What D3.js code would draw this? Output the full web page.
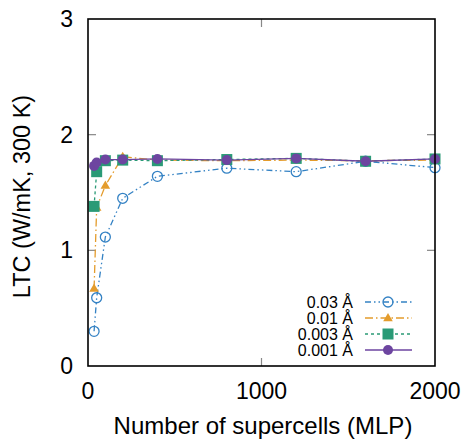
<!DOCTYPE html>
<html>
<head>
<meta charset="utf-8">
<script src="https://cdn.jsdelivr.net/npm/d3@7"></script>
<style>
body { margin: 0; background: #fff; }
text { font-family: "Liberation Sans", Arial, Helvetica, sans-serif; fill: #000; }
</style>
</head>
<body>
<div id="chart"></div>
<script>
// supercell counts and LTC values
var cells = [35, 50, 100, 200, 400, 800, 1200, 1600, 2000];
var ltc003 = [0.30, 0.59, 1.115, 1.45, 1.64, 1.71, 1.68, 1.77, 1.715];
var ltc001 = [0.67, 1.37, 1.56, 1.81, 1.78, 1.775, 1.78, 1.775, 1.78];
var ltc0003 = [1.38, 1.68, 1.775, 1.78, 1.775, 1.785, 1.795, 1.77, 1.79];
var ltc0001 = [1.73, 1.76, 1.785, 1.785, 1.79, 1.78, 1.795, 1.77, 1.79];
var seriesNames = ["0.03 Å", "0.01 Å", "0.003 Å", "0.001 Å"];
var xTicks = [0, 1000, 2000];
var yTicks = [0, 1, 2, 3];

var W = 466, H = 439;
var pL = 88, pR = 435, pT = 19, pB = 366;

var svg = d3.select("#chart").append("svg").attr("width", W).attr("height", H);

var x = d3.scaleLinear().domain([0, 2000]).range([pL, pR]);
var y = d3.scaleLinear().domain([0, 3]).range([pB, pT]);

var series = [
  {name: seriesNames[0], vals: ltc003, color: "#3482c4", dash: "6,3,1.5,3,1.5,3", mark: "circle"},
  {name: seriesNames[1], vals: ltc001, color: "#e49c2c", dash: "8,3,1.5,3", mark: "triangle"},
  {name: seriesNames[2], vals: ltc0003, color: "#2a9a76", dash: "3,3", mark: "square"},
  {name: seriesNames[3], vals: ltc0001, color: "#6d45a0", dash: null, mark: "dot"}
];

// ticks (gray, inward, mirrored)
var tickCol = "#888";
yTicks.filter(function(d){ return d > 0 && d < 3; }).forEach(function(t){
  svg.append("line").attr("x1", pL).attr("x2", pL + 8).attr("y1", y(t)).attr("y2", y(t))
    .attr("stroke", tickCol).attr("stroke-width", 1.2);
  svg.append("line").attr("x1", pR).attr("x2", pR - 8).attr("y1", y(t)).attr("y2", y(t))
    .attr("stroke", tickCol).attr("stroke-width", 1.2);
});
xTicks.filter(function(d){ return d > 0 && d < 2000; }).forEach(function(t){
  svg.append("line").attr("x1", x(t)).attr("x2", x(t)).attr("y1", pB).attr("y2", pB - 8)
    .attr("stroke", tickCol).attr("stroke-width", 1.2);
  svg.append("line").attr("x1", x(t)).attr("x2", x(t)).attr("y1", pT).attr("y2", pT + 8)
    .attr("stroke", tickCol).attr("stroke-width", 1.2);
});

// tick labels
svg.selectAll(".yl").data(yTicks).enter().append("text")
  .attr("x", 73).attr("y", function(d){ return y(d); }).attr("dy", "0.35em")
  .attr("text-anchor", "end").style("font-size", "23px").text(function(d){ return d; });
svg.selectAll(".xl").data(xTicks).enter().append("text")
  .attr("x", function(d){ return x(d); }).attr("y", 399)
  .attr("text-anchor", "middle").style("font-size", "23px").text(function(d){ return d; });

// axis titles
svg.append("text").attr("x", 263).attr("y", 434).attr("text-anchor", "middle")
  .style("font-size", "24px").text("Number of supercells (MLP)");
svg.append("text").attr("transform", "translate(30," + ((pT + pB) / 2 + 4) + ") rotate(-90)")
  .attr("text-anchor", "middle").style("font-size", "23.5px").text("LTC (W/mK, 300 K)");

function drawMark(g, kind, cx, cy, color) {
  if (kind == "circle") {
    g.append("circle").attr("cx", cx).attr("cy", cy).attr("r", 5)
      .attr("fill", "none").attr("stroke", color).attr("stroke-width", 1.3);
  } else if (kind == "triangle") {
    g.append("path").attr("d", "M" + cx + "," + (cy - 5) + "L" + (cx + 4.8) + "," + (cy + 3.2) + "L" + (cx - 4.8) + "," + (cy + 3.2) + "Z")
      .attr("fill", color);
  } else if (kind == "square") {
    g.append("rect").attr("x", cx - 5.5).attr("y", cy - 5.5).attr("width", 11).attr("height", 11).attr("fill", color);
  } else {
    g.append("circle").attr("cx", cx).attr("cy", cy).attr("r", 5).attr("fill", color);
  }
}

var line = d3.line().x(function(d){ return x(d[0]); }).y(function(d){ return y(d[1]); });

series.forEach(function(s){
  var g = svg.append("g");
  var pts = cells.map(function(c, i){ return [c, s.vals[i]]; });
  g.append("path").attr("d", line(pts)).attr("fill", "none").attr("stroke", s.color)
    .attr("stroke-width", 1.3).attr("stroke-dasharray", s.dash);
  pts.forEach(function(p){ drawMark(g, s.mark, x(p[0]), y(p[1]), s.color); });
});

// legend
var legY = [302, 318, 334, 350];
series.forEach(function(s, i){
  var g = svg.append("g");
  g.append("text").attr("x", 353).attr("y", legY[i]).attr("dy", "0.35em").attr("text-anchor", "end")
    .style("font-size", "16px").text(s.name);
  g.append("line").attr("x1", 365).attr("x2", 412).attr("y1", legY[i]).attr("y2", legY[i])
    .attr("stroke", s.color).attr("stroke-width", 1.3).attr("stroke-dasharray", s.dash);
  drawMark(g, s.mark, 388, legY[i], s.color);
});

// frame
svg.append("rect").attr("x", pL).attr("y", pT).attr("width", pR - pL).attr("height", pB - pT)
  .attr("fill", "none").attr("stroke", "#000").attr("stroke-width", 1.6);
</script>
</body>
</html>
